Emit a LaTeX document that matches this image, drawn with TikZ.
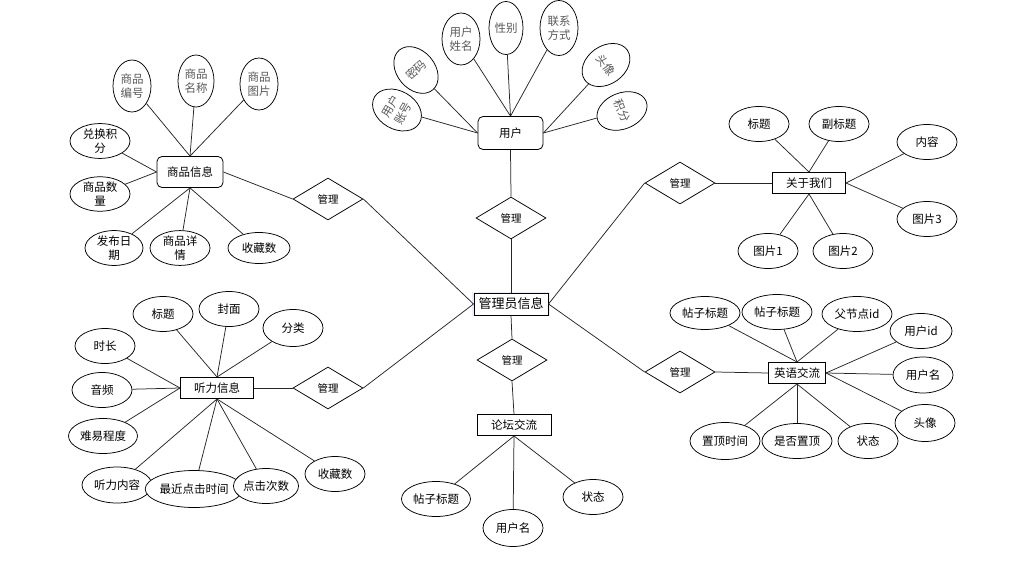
\documentclass[tikz,border=0pt]{standalone}
\usepackage{fontspec}
\setmainfont{Noto Sans CJK SC}
\usetikzlibrary{shapes.geometric,shadows}
\newcommand\myfs{\fontsize{11.5}{14}\selectfont}
\newcommand\myfsbig{\fontsize{13}{15}\selectfont}
\newcommand\myfsrel{\fontsize{10.5}{12}\selectfont}
\begin{document}
\begin{tikzpicture}[x=1pt,y=-1pt,
  attr/.style={ellipse, draw, fill=white, line width=0.75pt, inner sep=0pt, minimum width=60pt, minimum height=35pt, font=\myfs, align=center},
  vattr/.style={attr, minimum width=38pt, minimum height=52pt, text=black!65},
  ent/.style={draw, fill=white, line width=1pt, minimum width=73pt, minimum height=21pt, inner sep=0pt, font=\myfs, drop shadow={shadow xshift=0.8pt, shadow yshift=-0.8pt, fill=black!25}},
  rent/.style={draw, fill=white, rounded corners=5pt, line width=0.8pt, inner sep=0pt, font=\myfs},
  rel/.style={diamond, draw, fill=white, line width=0.75pt, minimum width=70pt, minimum height=42pt, inner sep=0pt, font=\myfsrel},
  conn/.style={line width=0.75pt, draw=black!85}]
\useasboundingbox (0,0) rectangle (1025,567);

% ---------- central ----------
\node[ent, minimum width=74pt, minimum height=22pt, font=\myfsbig, drop shadow={shadow xshift=0pt, shadow yshift=0pt, fill=blue!15, shadow scale=1.06}] (admin) at (511,304) {管理员信息};

% ---------- user ----------
\node[rent, minimum width=65pt, minimum height=33pt] (user) at (510.5,133) {用户};
\node[vattr, rotate=60] (yhzh) at (397,110) {用户\\账号};
\node[vattr, rotate=40] (mm) at (416,70) {密码};
\node[vattr] (yhxm) at (461,39) {用户\\姓名};
\node[vattr, minimum width=34pt, minimum height=53pt] (xb) at (506,28) {性别};
\node[vattr, minimum height=55pt] (lxfs) at (559,28) {联系\\方式};
\node[vattr, rotate=-55] (tx) at (606,65) {头像};
\node[vattr, rotate=-68, minimum width=36pt] (jf) at (622,111) {积分};
\node[rel] (rel0) at (511,218) {管理};

% ---------- product ----------
\node[rent, minimum width=66pt, minimum height=31pt] (sp) at (190,172) {商品信息};
\node[vattr] (spbh) at (132,86) {商品\\编号};
\node[vattr, minimum width=36pt] (spmc) at (196,81) {商品\\名称};
\node[vattr] (sptp) at (259,84) {商品\\图片};
\node[attr, minimum height=32pt] (dhjf) at (100,141) {兑换积\\分};
\node[attr, minimum height=32pt] (spsl) at (100,194) {商品数\\量};
\node[attr, minimum width=58pt, minimum height=32pt] (fbrq) at (114,248) {发布日\\期};
\node[attr, minimum height=31pt] (spxq) at (180,248) {商品详\\情};
\node[attr, minimum width=62pt, minimum height=31pt] (spsc) at (259,248) {收藏数};
\node[rel] (rel1) at (328,199) {管理};

% ---------- about ----------
\node[ent] (about) at (809,183) {关于我们};
\node[attr] (gybt) at (759,124) {标题};
\node[attr] (gyfbt) at (839,124) {副标题};
\node[attr] (gynr) at (927,142) {内容};
\node[attr] (gytp3) at (927,219) {图片3};
\node[attr] (gytp1) at (768,251) {图片1};
\node[attr] (gytp2) at (843,251) {图片2};
\node[rel] (rel2) at (680,183) {管理};

% ---------- english ----------
\node[ent, minimum width=57pt] (en) at (797,373) {英语交流};
\node[attr, minimum width=70pt, minimum height=33pt] (enbt1) at (705,313) {帖子标题};
\node[attr, minimum width=70pt] (enbt2) at (777,312) {帖子标题};
\node[attr, minimum width=70pt] (enfjd) at (857,314) {父节点id};
\node[attr, minimum width=62pt] (enyhid) at (921,331) {用户id};
\node[attr, minimum height=36pt] (enyhm) at (923,375) {用户名};
\node[attr, minimum height=37pt] (entx) at (925,423) {头像};
\node[attr, minimum width=70pt, minimum height=37pt] (enzdsj) at (725,441) {置顶时间};
\node[attr, minimum width=70pt] (ensf) at (797,441) {是否置顶};
\node[attr] (enzt) at (868,441) {状态};
\node[rel] (rel3) at (680,372) {管理};

% ---------- forum ----------
\node[ent, minimum width=74pt] (lt) at (514,425) {论坛交流};
\node[attr, minimum width=69pt] (ltbt) at (436,499) {帖子标题};
\node[attr, minimum height=37pt] (ltyhm) at (513,528) {用户名};
\node[attr] (ltzt) at (593,497) {状态};
\node[rel] (rel4) at (512,360) {管理};

% ---------- listening ----------
\node[ent] (tl) at (217,388) {听力信息};
\node[attr] (tlbt) at (163,314) {标题};
\node[attr] (tlfm) at (229,309) {封面};
\node[attr, minimum height=37pt] (tlfl) at (293,328) {分类};
\node[attr] (tlsc) at (105,346) {时长};
\node[attr] (tlyp) at (102,390) {音频};
\node[attr, minimum width=69pt] (tlnd) at (103,436) {难易程度};
\node[attr, minimum width=70pt, minimum height=36pt] (tlnr) at (117,485) {听力内容};
\node[attr, minimum width=92pt, minimum height=37pt] (tlzj) at (194,489) {最近点击时间};
\node[attr, minimum width=59pt] (tldj) at (266,486) {点击次数};
\node[attr] (tlsc2) at (335,474) {收藏数};
\node[rel] (rel5) at (328,388) {管理};

% ---------- connectors ----------
\foreach \a in {yhzh,mm} \draw[conn] (\a) -- (user.west);
\foreach \a in {yhxm,xb,lxfs} \draw[conn] (\a) -- (user.north);
\foreach \a in {tx,jf} \draw[conn] (\a) -- (user.east);
\draw[conn] (user.south) -- (rel0.north);
\draw[conn] (rel0.south) -- (admin.north);

\foreach \a in {spbh,spmc,sptp} \draw[conn] (\a) -- (sp.north);
\foreach \a in {dhjf,spsl} \draw[conn] (\a) -- (sp.west);
\foreach \a in {fbrq,spxq,spsc} \draw[conn] (sp.south) -- (\a);
\draw[conn] (sp.east) -- (rel1.west);
\draw[conn] (rel1.east) -- (admin.west);

\foreach \a in {gybt,gyfbt} \draw[conn] (\a) -- (about.north);
\foreach \a in {gynr,gytp3} \draw[conn] (\a) -- (about.east);
\foreach \a in {gytp1,gytp2} \draw[conn] (about.south) -- (\a);
\draw[conn] (admin.east) -- (rel2.west);
\draw[conn] (rel2.east) -- (about.west);

\foreach \a in {enbt1,enbt2,enfjd} \draw[conn] (\a) -- (en.north);
\foreach \a in {enyhid,enyhm,entx} \draw[conn] (\a) -- (en.east);
\foreach \a in {enzdsj,ensf,enzt} \draw[conn] (en.south) -- (\a);
\draw[conn] (admin.east) -- (rel3.west);
\draw[conn] (rel3.east) -- (en.west);

\draw[conn] (admin.south) -- (rel4.north);
\draw[conn] (rel4.south) -- (lt.north);
\foreach \a in {ltbt,ltyhm,ltzt} \draw[conn] (lt.south) -- (\a);

\foreach \a in {tlbt,tlfm,tlfl} \draw[conn] (\a) -- (tl.north);
\foreach \a in {tlsc,tlyp,tlnd} \draw[conn] (\a) -- (tl.west);
\foreach \a in {tlnr,tlzj,tldj,tlsc2} \draw[conn] (tl.south) -- (\a);
\draw[conn] (tl.east) -- (rel5.west);
\draw[conn] (rel5.east) -- (admin.west);
\end{tikzpicture}
\end{document}
